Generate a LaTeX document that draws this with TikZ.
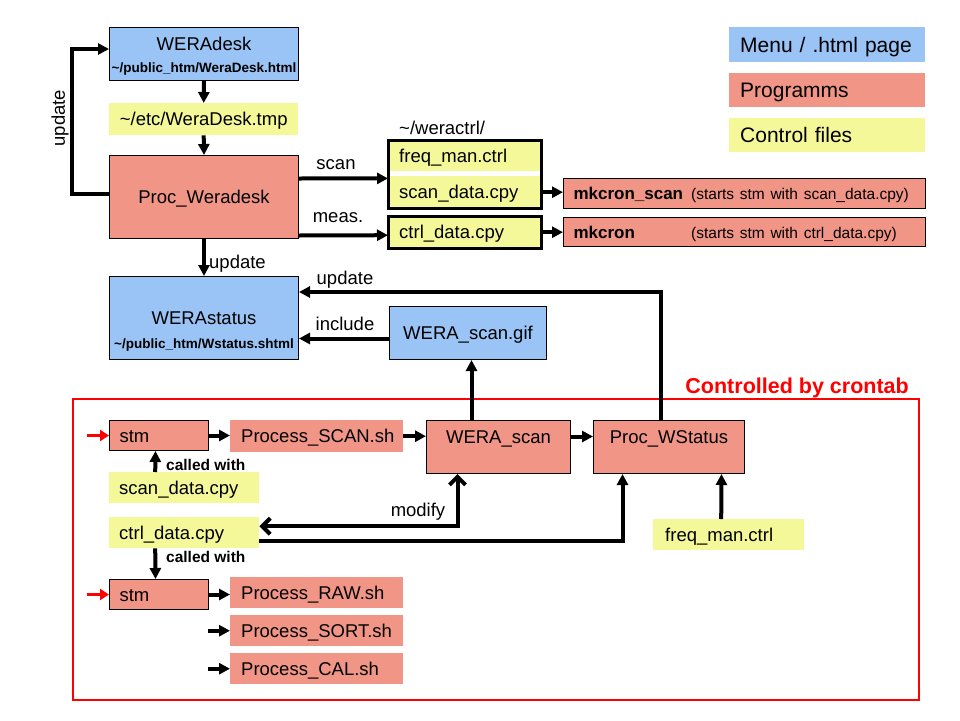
\documentclass[tikz,border=0pt]{standalone}
\usepackage{fontspec}
\setmainfont{Liberation Sans}
\usetikzlibrary{arrows.meta}
\definecolor{menublue}{RGB}{153,196,245}
\definecolor{progred}{RGB}{241,150,135}
\definecolor{ctrlyellow}{RGB}{244,248,153}
\newcommand\mainfs{\fontsize{18.5pt}{22pt}\selectfont}
\newcommand\mkfs{\fontsize{17pt}{20pt}\selectfont}
\newcommand\subfs{\fontsize{13.5pt}{16pt}\selectfont\bfseries}
\newcommand\notefs{\fontsize{15.5pt}{18pt}\selectfont}
\newcommand\legfs{\fontsize{21pt}{25pt}\selectfont}

\begin{document}
\begin{tikzpicture}[x=1pt,y=1pt,
  box/.style={anchor=north west, inner sep=0pt, font=\mainfs, text height=13.2pt, text depth=0pt},
  menu/.style={box, fill=menublue, draw=black, line width=1pt},
  prog/.style={box, fill=progred},
  progb/.style={prog, draw=black, line width=1pt},
  ctrl/.style={box, fill=ctrlyellow},
  legend/.style={box, font=\legfs, text height=15pt, align=left, inner xsep=11pt, text width=174pt},
  lft/.style={align=left, inner xsep=#1},
  uptext/.style={text height=13pt, text depth=19.5pt},
  subl/.style={anchor=base, inner sep=0pt, font=\subfs},
  lbl/.style={inner sep=0pt, font=\mainfs},
  note/.style={inner sep=0pt, anchor=west, font=\notefs\bfseries},
  heavy/.style={line width=3pt},
  flow/.style={line width=4pt, -{Triangle[length=11pt,width=11pt]}},
  both/.style={line width=4pt, {Straight Barb[length=8pt,width=16pt]}-{Straight Barb[length=8pt,width=16pt]}},
  redflow/.style={red, line width=3pt, -{Triangle[length=9pt,width=11pt]}}]
\useasboundingbox[fill=white] (0,0) rectangle (960,-720);

\node[menu, minimum width=189, minimum height=53, uptext, label={[subl, yshift=8.5pt]south:\textasciitilde/public\_htm/WeraDesk.html}] (weradesk) at (109,-27) {WERAdesk};
\node[ctrl, minimum width=189, minimum height=32] (tmp) at (109,-103) {\textasciitilde/etc/WeraDesk.tmp};
\node[progb, minimum width=189, minimum height=83] (procw) at (109,-155) {Proc\_Weradesk};

\node[lbl, anchor=west] (weractrl) at (399,-128) {\textasciitilde/weractrl/};
\node[ctrl, lft=11pt, text width=131pt, minimum height=31] (freqctl) at (388,-140) {freq\_man.ctrl};
\node[ctrl, lft=11pt, text width=131pt, minimum height=32] (scanctl) at (388,-176) {scan\_data.cpy};
\node[ctrl, lft=11pt, text width=131pt, minimum height=32] (ctrldata) at (388,-216) {ctrl\_data.cpy};
\draw[heavy] (freqctl.north west) rectangle (scanctl.south east);
\draw[heavy] (ctrldata.north west) rectangle (ctrldata.south east);

\node[progb, font=\mkfs, text height=12.2pt, lft=10pt, text width=342pt, minimum height=30] (mkscan) at (563,-178) {\makebox[112pt][l]{\bfseries mkcron\_scan} {\notefs(starts stm with scan\_data.cpy)}};
\node[progb, font=\mkfs, text height=12.2pt, lft=10pt, text width=342pt, minimum height=29] (mkcron) at (563,-217) {\makebox[112pt][l]{\bfseries mkcron} {\notefs(starts stm with ctrl\_data.cpy)}};

\node[menu, minimum width=189, minimum height=83, label={[subl, yshift=12pt]south:\textasciitilde/public\_htm/Wstatus.shtml}] (werastatus) at (109,-276) {WERAstatus};
\node[menu, minimum width=157, minimum height=53] (gif) at (389,-306) {WERA\_scan.gif};

\node[legend, fill=menublue, minimum height=35] (lgmenu) at (729,-27) {Menu / .html page};
\node[legend, fill=progred, minimum height=34] (lgprog) at (729,-73) {Programms};
\node[legend, fill=ctrlyellow, minimum height=34] (lgctrl) at (729,-118) {Control files};

\node[box, draw=red, line width=2pt, minimum width=846, minimum height=301] (cron) at (72,-398) {};
\node[inner sep=0pt, anchor=base east, text=red, font=\fontsize{21.5pt}{25pt}\selectfont\bfseries] (cronlbl) at ([xshift=-11pt,yshift=5pt]cron.north east) {Controlled by crontab};

\node[progb, lft=10pt, text width=79pt, minimum height=30] (stm1) at (109,-420) {stm};
\node[prog, lft=11pt, text width=151pt, minimum height=32] (pscan) at (230,-420) {Process\_SCAN.sh};
\node[progb, minimum width=144, minimum height=53, uptext] (wscan) at (426,-420) {WERA\_scan};
\node[progb, minimum width=151, minimum height=53, uptext] (pws) at (593,-420) {Proc\_WStatus};
\node[ctrl, lft=10pt, text width=130pt, minimum height=31] (sd2) at (109,-472) {scan\_data.cpy};
\node[ctrl, lft=10pt, text width=130pt, minimum height=31] (cd2) at (109,-517) {ctrl\_data.cpy};
\node[ctrl, lft=12pt, text width=127pt, minimum height=31] (fm2) at (653,-519) {freq\_man.ctrl};
\node[progb, lft=10pt, text width=79pt, minimum height=30] (stm2) at (109,-579) {stm};
\node[prog, lft=11pt, text width=151pt, minimum height=31] (praw) at (230,-577) {Process\_RAW.sh};
\node[prog, lft=11pt, text width=151pt, minimum height=31] (psort) at (230,-615) {Process\_SORT.sh};
\node[prog, lft=11pt, text width=151pt, minimum height=31] (pcal) at (230,-653) {Process\_CAL.sh};

\node[lbl, rotate=90] (updloop) at (60,-118) {update};
\node[lbl] (scanlbl) at (336,-165) {scan};
\node[lbl] (measlbl) at (338,-218) {meas.};
\node[lbl, anchor=west] (updlbl) at (209,-264) {update};
\node[lbl] (updlbl2) at (345,-280) {update};
\node[lbl] (incllbl) at (345,-324) {include};
\node[lbl] (modlbl) at (418,-512) {modify};
\node[note] (call1) at (166,-465) {called with};
\node[note] (call2) at (166,-557) {called with};

\draw[flow] (weradesk.south) -- (tmp.north);
\draw[flow] (tmp.south) -- (procw.north);
\draw[flow] ([yshift=3.5pt]procw.west) -- ++(-37,0) |- ([yshift=-22pt]weradesk.north west);
\draw[flow] ([yshift=18.5pt]procw.east) -- ([yshift=-7pt]freqctl.south west);
\draw[flow] ([yshift=-38.5pt]procw.east) -- ([yshift=-3pt]ctrldata.west);
\draw[flow] (scanctl.east) -- (mkscan.west |- scanctl.east);
\draw[flow] (ctrldata.east) -- (mkcron.west |- ctrldata.east);
\draw[flow] (procw.south) -- (werastatus.north);
\draw[flow] ([xshift=-8.5pt]pws.north) |- ([yshift=-16pt]werastatus.north east);
\draw[flow] ([yshift=-5.5pt]gif.west) -- ([yshift=-20.5pt]werastatus.east);
\draw[flow] ([xshift=-27pt]wscan.north) -- ([xshift=3.5pt]gif.south);
\draw[redflow] ([xshift=-22pt]stm1.west) -- (stm1.west);
\draw[flow] (stm1.east) -- (pscan.west |- stm1.east);
\draw[flow] (pscan.east) -- (wscan.west |- pscan.east);
\draw[flow] ([yshift=10.5pt]wscan.east) -- ([yshift=10.5pt]pws.west);
\draw[flow] ([xshift=-29pt]sd2.north) -- ([xshift=-3.5pt]stm1.south);
\draw[both] ([yshift=6.5pt]cd2.east) -| ([xshift=-41pt]wscan.south);
\draw[flow] ([yshift=-8.5pt]cd2.east) -| ([xshift=-46.5pt]pws.south);
\draw[flow] ([xshift=-7.5pt]fm2.north) -- ([xshift=52.5pt]pws.south);
\draw[flow] ([xshift=-29pt]cd2.south) -- ([xshift=-3.5pt]stm2.north);
\draw[redflow] ([xshift=-22pt]stm2.west) -- (stm2.west);
\draw[flow] (stm2.east) -- (praw.west |- stm2.east);
\draw[flow] ([xshift=-22pt]psort.west) -- (psort.west);
\draw[flow] ([xshift=-22pt]pcal.west) -- (pcal.west);
\end{tikzpicture}
\end{document}
